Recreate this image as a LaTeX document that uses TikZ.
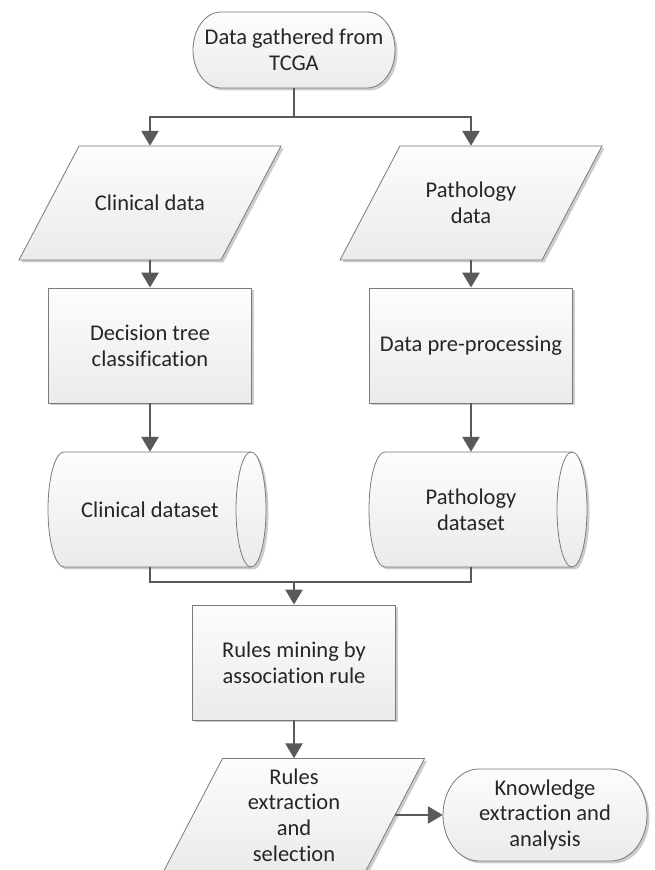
\documentclass[tikz,border=0pt]{standalone}
\usepackage{fontspec}
\setmainfont{Carlito}[Ligatures=NoCommon]
\usetikzlibrary{arrows.meta,shadows,calc}
\definecolor{linec}{HTML}{595959}
\definecolor{bordc}{HTML}{7A7A7A}
\definecolor{txtc}{HTML}{262626}
\tikzset{
 shp/.style={draw=bordc, line width=0.8pt, top color=black!1, bottom color=black!8,
   drop shadow={shadow xshift=2.5pt, shadow yshift=-2.5pt, fill=black!20, opacity=1}},
 lbl/.style={align=center, inner sep=0pt, text=txtc, font=\fontsize{22.5}{25.7}\selectfont},
 boxnode/.style={lbl, shp, rectangle, minimum width=203pt, minimum height=115pt},
 conn/.style={draw=linec, line width=2.6pt},
 arr/.style={conn, -{Triangle[length=15pt,width=17pt]}},
}
% terminator: name cx cy w h rx text
\newcommand\myterm[7]{%
 \path[shp] ({#2-#4/2+#6},{#3+#5/2}) -- ({#2+#4/2-#6},{#3+#5/2})
   arc[start angle=90,end angle=-90,x radius=#6,y radius=#5/2]
   -- ({#2-#4/2+#6},{#3-#5/2})
   arc[start angle=270,end angle=90,x radius=#6,y radius=#5/2] -- cycle;
 \node[lbl, minimum width=#4pt, minimum height=#5pt] (#1) at (#2,#3) {#7};
}
% parallelogram: name cx cy w h s text
\newcommand\mypara[7]{%
 \path[shp] ({#2-#4/2+#6},{#3+#5/2}) -- ({#2+#4/2+#6},{#3+#5/2})
   -- ({#2+#4/2-#6},{#3-#5/2}) -- ({#2-#4/2-#6},{#3-#5/2}) -- cycle;
 \node[lbl, minimum width=#4pt, minimum height=#5pt] (#1) at (#2,#3) {#7};
}
% stored data (horizontal cylinder): name cx cy text
\newcommand\mycyl[4]{%
 \path[shp] ({#2-86},{#3+57.5}) -- ({#2+101},{#3+57.5})
   arc[start angle=90,end angle=-90,x radius=15,y radius=57.5]
   -- ({#2-86},{#3-57.5})
   arc[start angle=270,end angle=90,x radius=16,y radius=57.5] -- cycle;
 \draw[draw=bordc, line width=0.8pt] ({#2+101},{#3+57.5})
   arc[start angle=90,end angle=270,x radius=15,y radius=57.5];
 \node[lbl, minimum width=172pt, minimum height=115pt] (#1) at (#2,#3) {#4};
}
\begin{document}
\begin{tikzpicture}[x=1pt,y=1pt]
\useasboundingbox (0,0) rectangle (654,870);
\fill[white] (0,0) rectangle (654,870);

\myterm{T1}{294}{820}{202}{76}{28}{Data gathered from\\TCGA}
\mypara{P1}{150}{667}{202}{114}{30}{Clinical data}
\mypara{P2}{471}{667}{202}{114}{30}{Pathology\\data}
\node[boxnode] (R1) at (150,524.5) {Decision tree\\classification};
\node[boxnode] (R2) at (471,524.5) {Data pre-processing};
\mycyl{C1}{150}{360.5}{Clinical dataset}
\mycyl{C2}{471}{360.5}{Pathology\\dataset}
\node[boxnode] (R3) at (294,207.5) {Rules mining by\\association rule};
\mypara{P3}{294}{55}{202}{113}{29.5}{Rules\\extraction\\and\\selection}
\myterm{K}{545}{55}{204}{92}{36}{Knowledge\\extraction and\\analysis}

\coordinate (b1) at (294,753);
\coordinate (m1) at (294,288);
\draw[conn] (T1.south) -- (b1);
\draw[arr] (b1) -| (P1.north);
\draw[arr] (b1) -| (P2.north);
\draw[arr] (P1.south) -- (R1.north);
\draw[arr] (P2.south) -- (R2.north);
\draw[arr] (R1.south) -- (C1.north);
\draw[arr] (R2.south) -- (C2.north);
\draw[conn] (C1.south) |- (m1) -| (C2.south);
\draw[arr] (m1) -- (R3.north);
\draw[arr] (R3.south) -- (P3.north);
\draw[arr] (P3.east) -- (K.west);
\end{tikzpicture}
\end{document}
